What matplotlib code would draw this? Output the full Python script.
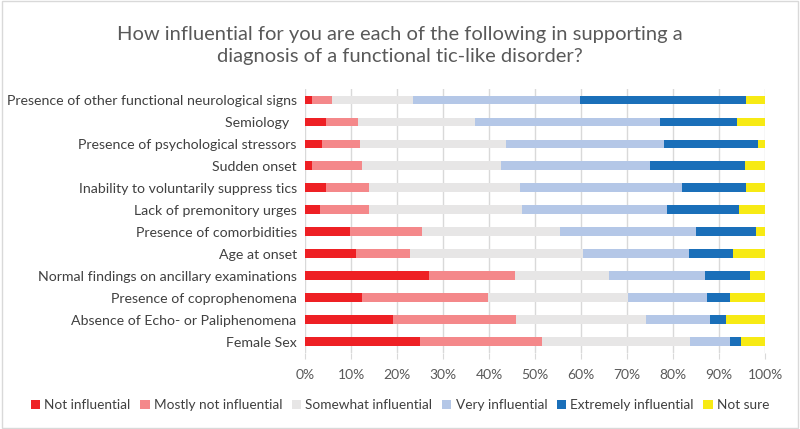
import matplotlib
matplotlib.use("Agg")
import matplotlib.pyplot as plt
from matplotlib.patches import Rectangle
import numpy as np

plt.rcParams['font.family'] = ['Lato', 'DejaVu Sans']

categories = [
    "Presence of other functional neurological signs",
    "Semiology\u00a0\u00a0",
    "Presence of psychological stressors",
    "Sudden onset",
    "Inability to voluntarily suppress tics",
    "Lack of premonitory urges",
    "Presence of comorbidities",
    "Age at onset",
    "Normal findings on ancillary examinations",
    "Presence of coprophenomena",
    "Absence of Echo- or Paliphenomena",
    "Female Sex",
]
series_names = ["Not influential", "Mostly not influential", "Somewhat influential",
                "Very influential", "Extremely influential", "Not sure"]
not_influential = [1.6, 4.6, 3.7, 1.6, 4.6, 3.3, 9.8, 11.1, 27.0, 12.3, 19.2, 25.1]
mostly_not = [4.2, 6.9, 8.2, 10.7, 9.4, 10.7, 15.6, 11.8, 18.7, 27.4, 26.7, 26.4]
somewhat = [17.6, 25.4, 31.8, 30.3, 32.8, 33.1, 30.1, 37.5, 20.4, 30.6, 28.3, 32.1]
very = [36.3, 40.2, 34.3, 32.4, 35.2, 31.6, 29.5, 23.0, 20.9, 17.1, 13.9, 8.7]
extremely = [36.2, 16.8, 20.5, 20.6, 13.9, 15.7, 13.0, 9.7, 9.8, 4.9, 3.4, 2.5]
not_sure = [4.1, 6.1, 1.5, 4.4, 4.1, 5.6, 2.0, 6.9, 3.2, 7.7, 8.5, 5.2]
colors = ["#EE2024", "#F4888A", "#E7E6E6", "#B4C7E7", "#1A6FB9", "#F7EA14"]
tick_labels = ["0%", "10%", "20%", "30%", "40%", "50%", "60%", "70%", "80%", "90%", "100%"]

data = [not_influential, mostly_not, somewhat, very, extremely, not_sure]

fig = plt.figure(figsize=(8, 4.29), dpi=100)
ax = fig.add_axes([0.38125, 0.178, 0.575, 0.6146])

y = np.arange(len(categories))
left = np.zeros(len(categories))
for name, vals, c in zip(series_names, data, colors):
    vals = np.array(vals)
    ax.barh(y, vals, left=left, height=0.4, color=c, label=name, zorder=3)
    left += vals

ax.set_ylim(len(categories) - 0.5, -0.5)
ax.set_xlim(0, 100)
ax.set_xticks(np.arange(0, 101, 10))
ax.set_xticklabels(tick_labels, color="#595959", fontsize=10)
ax.set_yticks(y)
ax.set_yticklabels(categories, color="#404040", fontsize=10.2)
ax.tick_params(axis='y', length=0, pad=6)
ax.tick_params(axis='x', length=4, color="#D9D9D9", pad=8)
ax.grid(axis='x', color="#D9D9D9", linewidth=1, zorder=0)
for s in ax.spines.values():
    s.set_visible(False)

fig.suptitle("How influential for you are each of the following in supporting a\n"
             "diagnosis of a functional tic-like disorder?",
             x=0.5, y=0.94, fontsize=14.5, color="#595959", linespacing=1.4)

fig.legend(loc="center", bbox_to_anchor=(0.5, 0.055), ncol=6, frameon=False,
           fontsize=9.8, handlelength=0.7, handleheight=0.7, handletextpad=0.3,
           columnspacing=0.7, labelcolor="#404040")

fig.patches.append(Rectangle((0.002, 0.003), 0.996, 0.994, transform=fig.transFigure,
                             fill=False, edgecolor="#D9D9D9", linewidth=1))

fig.savefig("out.png", dpi=100)
